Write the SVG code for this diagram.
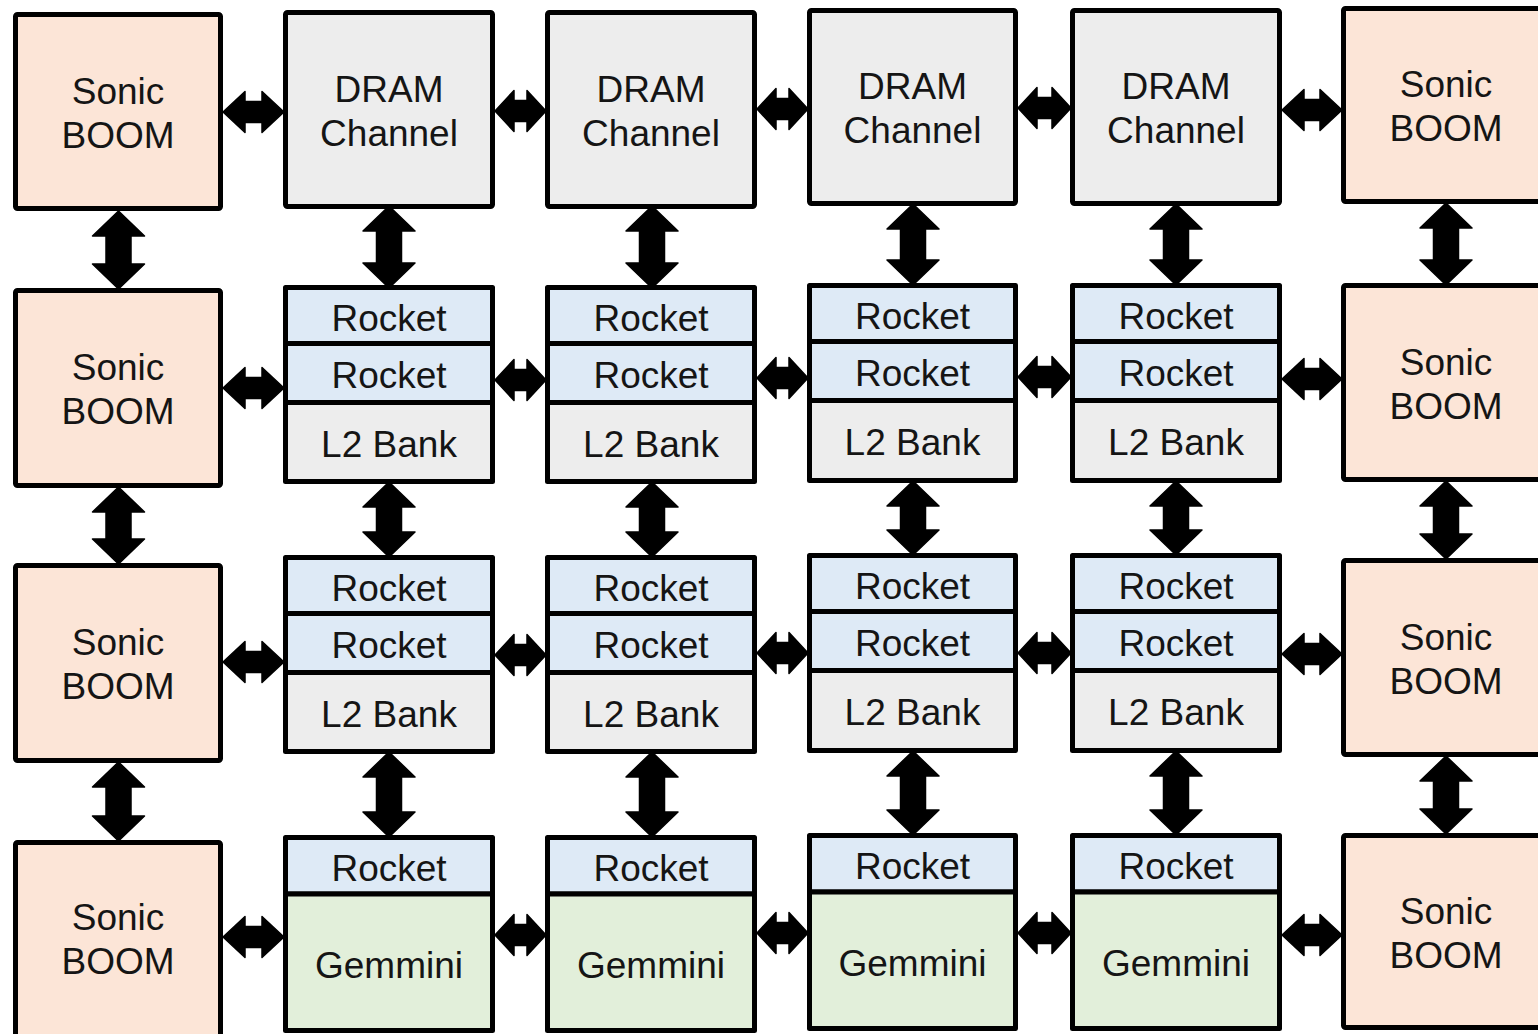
<svg xmlns="http://www.w3.org/2000/svg" width="1538" height="1034" viewBox="0 0 1538 1034">
<style>
rect{stroke:#000;stroke-width:5;stroke-linejoin:round}
.s{fill:#fce5d7}
.g{fill:#ededed}
.r{fill:#deeaf6}
.m{fill:#e2efda}
text{font-family:"Liberation Sans",Arial,sans-serif;font-size:37px;fill:#151515;text-anchor:middle}
.c path{fill:#000;stroke:#000;stroke-width:1.5;stroke-linejoin:round}
</style>
<rect width="1538" height="1034" fill="#fff" style="stroke:none"/>
<g id="sonic-0-0"><rect class="s" x="15.5" y="14.5" width="205" height="194" rx="2"/><text x="118" y="103.5">Sonic</text><text x="118" y="147.5">BOOM</text></g>
<g id="sonic-0-1"><rect class="s" x="15.5" y="290.5" width="205" height="195" rx="2"/><text x="118" y="380">Sonic</text><text x="118" y="424">BOOM</text></g>
<g id="sonic-0-2"><rect class="s" x="15.5" y="565.5" width="205" height="195" rx="2"/><text x="118" y="655">Sonic</text><text x="118" y="699">BOOM</text></g>
<g id="sonic-0-3"><rect class="s" x="15.5" y="842.5" width="205" height="205" rx="2"/><text x="118" y="930">Sonic</text><text x="118" y="974">BOOM</text></g>
<g id="sonic-5-0"><rect class="s" x="1343.5" y="8.5" width="210" height="193" rx="2"/><text x="1446" y="97">Sonic</text><text x="1446" y="141">BOOM</text></g>
<g id="sonic-5-1"><rect class="s" x="1343.5" y="285.5" width="210" height="194" rx="2"/><text x="1446" y="375">Sonic</text><text x="1446" y="419">BOOM</text></g>
<g id="sonic-5-2"><rect class="s" x="1343.5" y="560.5" width="210" height="194" rx="2"/><text x="1446" y="650">Sonic</text><text x="1446" y="694">BOOM</text></g>
<g id="sonic-5-3"><rect class="s" x="1343.5" y="835.5" width="210" height="192" rx="2"/><text x="1446" y="924">Sonic</text><text x="1446" y="968">BOOM</text></g>

<g id="dram-1"><rect class="g" x="285.5" y="12.5" width="207" height="194" rx="2"/><text x="389" y="101.5">DRAM</text><text x="389" y="145.5">Channel</text></g>
<g id="dram-2"><rect class="g" x="547.5" y="12.5" width="207" height="194" rx="2"/><text x="651" y="101.5">DRAM</text><text x="651" y="145.5">Channel</text></g>
<g id="dram-3"><rect class="g" x="809.5" y="10.5" width="206" height="193" rx="2"/><text x="912.5" y="99">DRAM</text><text x="912.5" y="143">Channel</text></g>
<g id="dram-4"><rect class="g" x="1072.5" y="10.5" width="207" height="193" rx="2"/><text x="1176" y="99">DRAM</text><text x="1176" y="143">Channel</text></g>

<g id="tile-1-1"><rect class="r" x="285.5" y="287.5" width="207" height="56"/><rect class="r" x="285.5" y="343.5" width="207" height="59"/><rect class="g" x="285.5" y="402.5" width="207" height="79"/><text x="389" y="331">Rocket</text><text x="389" y="388">Rocket</text><text x="389" y="457">L2 Bank</text></g>
<g id="tile-2-1"><rect class="r" x="547.5" y="287.5" width="207" height="56"/><rect class="r" x="547.5" y="343.5" width="207" height="59"/><rect class="g" x="547.5" y="402.5" width="207" height="79"/><text x="651" y="331">Rocket</text><text x="651" y="388">Rocket</text><text x="651" y="457">L2 Bank</text></g>
<g id="tile-3-1"><rect class="r" x="809.5" y="285.5" width="206" height="56"/><rect class="r" x="809.5" y="341.5" width="206" height="59"/><rect class="g" x="809.5" y="400.5" width="206" height="80"/><text x="912.5" y="329">Rocket</text><text x="912.5" y="386">Rocket</text><text x="912.5" y="455">L2 Bank</text></g>
<g id="tile-4-1"><rect class="r" x="1072.5" y="285.5" width="207" height="56"/><rect class="r" x="1072.5" y="341.5" width="207" height="59"/><rect class="g" x="1072.5" y="400.5" width="207" height="80"/><text x="1176" y="329">Rocket</text><text x="1176" y="386">Rocket</text><text x="1176" y="455">L2 Bank</text></g>

<g id="tile-1-2"><rect class="r" x="285.5" y="557.5" width="207" height="56"/><rect class="r" x="285.5" y="613.5" width="207" height="59"/><rect class="g" x="285.5" y="672.5" width="207" height="79"/><text x="389" y="601">Rocket</text><text x="389" y="658">Rocket</text><text x="389" y="727">L2 Bank</text></g>
<g id="tile-2-2"><rect class="r" x="547.5" y="557.5" width="207" height="56"/><rect class="r" x="547.5" y="613.5" width="207" height="59"/><rect class="g" x="547.5" y="672.5" width="207" height="79"/><text x="651" y="601">Rocket</text><text x="651" y="658">Rocket</text><text x="651" y="727">L2 Bank</text></g>
<g id="tile-3-2"><rect class="r" x="809.5" y="555.5" width="206" height="56"/><rect class="r" x="809.5" y="611.5" width="206" height="59"/><rect class="g" x="809.5" y="670.5" width="206" height="80"/><text x="912.5" y="599">Rocket</text><text x="912.5" y="656">Rocket</text><text x="912.5" y="725">L2 Bank</text></g>
<g id="tile-4-2"><rect class="r" x="1072.5" y="555.5" width="207" height="56"/><rect class="r" x="1072.5" y="611.5" width="207" height="59"/><rect class="g" x="1072.5" y="670.5" width="207" height="80"/><text x="1176" y="599">Rocket</text><text x="1176" y="656">Rocket</text><text x="1176" y="725">L2 Bank</text></g>

<g id="tile-1-3"><rect class="r" x="285.5" y="837.5" width="207" height="56.5"/><rect class="m" x="285.5" y="894" width="207" height="136.5"/><text x="389" y="881">Rocket</text><text x="389" y="978">Gemmini</text></g>
<g id="tile-2-3"><rect class="r" x="547.5" y="837.5" width="207" height="56.5"/><rect class="m" x="547.5" y="894" width="207" height="136.5"/><text x="651" y="881">Rocket</text><text x="651" y="978">Gemmini</text></g>
<g id="tile-3-3"><rect class="r" x="809.5" y="835.5" width="206" height="56.5"/><rect class="m" x="809.5" y="892" width="206" height="136.5"/><text x="912.5" y="879">Rocket</text><text x="912.5" y="976">Gemmini</text></g>
<g id="tile-4-3"><rect class="r" x="1072.5" y="835.5" width="207" height="56.5"/><rect class="m" x="1072.5" y="892" width="207" height="136.5"/><text x="1176" y="879">Rocket</text><text x="1176" y="976">Gemmini</text></g>

<g id="connectors" class="c">
<path d="M223,112 L245,91.5 V101.5 H262 V91.5 L284,112 L262,132.5 V122.5 H245 V132.5 Z"/>
<path d="M495,111 L514,90.5 V100.5 H527 V90.5 L546,111 L527,131.5 V121.5 H514 V131.5 Z"/>
<path d="M757,109 L776,88.5 V98.5 H789 V88.5 L808,109 L789,129.5 V119.5 H776 V129.5 Z"/>
<path d="M1018,108 L1037,87.5 V97.5 H1052 V87.5 L1071,108 L1052,128.5 V118.5 H1037 V128.5 Z"/>
<path d="M1282,110 L1304,89.5 V99.5 H1320 V89.5 L1342,110 L1320,130.5 V120.5 H1304 V130.5 Z"/>

<path d="M223,388 L245,367.5 V377.5 H262 V367.5 L284,388 L262,408.5 V398.5 H245 V408.5 Z"/>
<path d="M495,380 L514,359.5 V369.5 H527 V359.5 L546,380 L527,400.5 V390.5 H514 V400.5 Z"/>
<path d="M757,378 L776,357.5 V367.5 H789 V357.5 L808,378 L789,398.5 V388.5 H776 V398.5 Z"/>
<path d="M1018,377 L1037,356.5 V366.5 H1052 V356.5 L1071,377 L1052,397.5 V387.5 H1037 V397.5 Z"/>
<path d="M1282,379 L1304,358.5 V368.5 H1320 V358.5 L1342,379 L1320,399.5 V389.5 H1304 V399.5 Z"/>

<path d="M223,662 L245,641.5 V651.5 H262 V641.5 L284,662 L262,682.5 V672.5 H245 V682.5 Z"/>
<path d="M495,655 L514,634.5 V644.5 H527 V634.5 L546,655 L527,675.5 V665.5 H514 V675.5 Z"/>
<path d="M757,653 L776,632.5 V642.5 H789 V632.5 L808,653 L789,673.5 V663.5 H776 V673.5 Z"/>
<path d="M1018,653 L1037,632.5 V642.5 H1052 V632.5 L1071,653 L1052,673.5 V663.5 H1037 V673.5 Z"/>
<path d="M1282,654 L1304,633.5 V643.5 H1320 V633.5 L1342,654 L1320,674.5 V664.5 H1304 V674.5 Z"/>

<path d="M223,937 L245,916.5 V926.5 H262 V916.5 L284,937 L262,957.5 V947.5 H245 V957.5 Z"/>
<path d="M495,935 L514,914.5 V924.5 H527 V914.5 L546,935 L527,955.5 V945.5 H514 V955.5 Z"/>
<path d="M757,933 L776,912.5 V922.5 H789 V912.5 L808,933 L789,953.5 V943.5 H776 V953.5 Z"/>
<path d="M1018,933 L1037,912.5 V922.5 H1052 V912.5 L1071,933 L1052,953.5 V943.5 H1037 V953.5 Z"/>
<path d="M1282,935 L1304,914.5 V924.5 H1320 V914.5 L1342,935 L1320,955.5 V945.5 H1304 V955.5 Z"/>

<path d="M118.5,211 L144.5,236 H131 V264 H144.5 L118.5,289 L92.5,264 H106 V236 H92.5 Z"/>
<path d="M118.5,487 L144.5,512 H131 V539 H144.5 L118.5,564 L92.5,539 H106 V512 H92.5 Z"/>
<path d="M118.5,762 L144.5,787 H131 V816 H144.5 L118.5,841 L92.5,816 H106 V787 H92.5 Z"/>

<path d="M389,206 L415,231 H401.5 V263 H415 L389,288 L363,263 H376.5 V231 H363 Z"/>
<path d="M389,482 L415,507 H401.5 V532 H415 L389,557 L363,532 H376.5 V507 H363 Z"/>
<path d="M389,752 L415,777 H401.5 V812 H415 L389,837 L363,812 H376.5 V777 H363 Z"/>

<path d="M652,206 L678,231 H664.5 V263 H678 L652,288 L626,263 H639.5 V231 H626 Z"/>
<path d="M652,482 L678,507 H664.5 V532 H678 L652,557 L626,532 H639.5 V507 H626 Z"/>
<path d="M652,752 L678,777 H664.5 V812 H678 L652,837 L626,812 H639.5 V777 H626 Z"/>

<path d="M913,204 L939,229 H925.5 V260 H939 L913,285 L887,260 H900.5 V229 H887 Z"/>
<path d="M913,481 L939,506 H925.5 V530 H939 L913,555 L887,530 H900.5 V506 H887 Z"/>
<path d="M913,751 L939,776 H925.5 V810 H939 L913,835 L887,810 H900.5 V776 H887 Z"/>

<path d="M1176,204 L1202,229 H1188.5 V260 H1202 L1176,285 L1150,260 H1163.5 V229 H1150 Z"/>
<path d="M1176,481 L1202,506 H1188.5 V530 H1202 L1176,555 L1150,530 H1163.5 V506 H1150 Z"/>
<path d="M1176,751 L1202,776 H1188.5 V810 H1202 L1176,835 L1150,810 H1163.5 V776 H1150 Z"/>

<path d="M1446,203 L1472,228 H1458.5 V260 H1472 L1446,285 L1420,260 H1433.5 V228 H1420 Z"/>
<path d="M1446,481 L1472,506 H1458.5 V534 H1472 L1446,559 L1420,534 H1433.5 V506 H1420 Z"/>
<path d="M1446,756 L1472,781 H1458.5 V809 H1472 L1446,834 L1420,809 H1433.5 V781 H1420 Z"/>
</g>
</svg>
